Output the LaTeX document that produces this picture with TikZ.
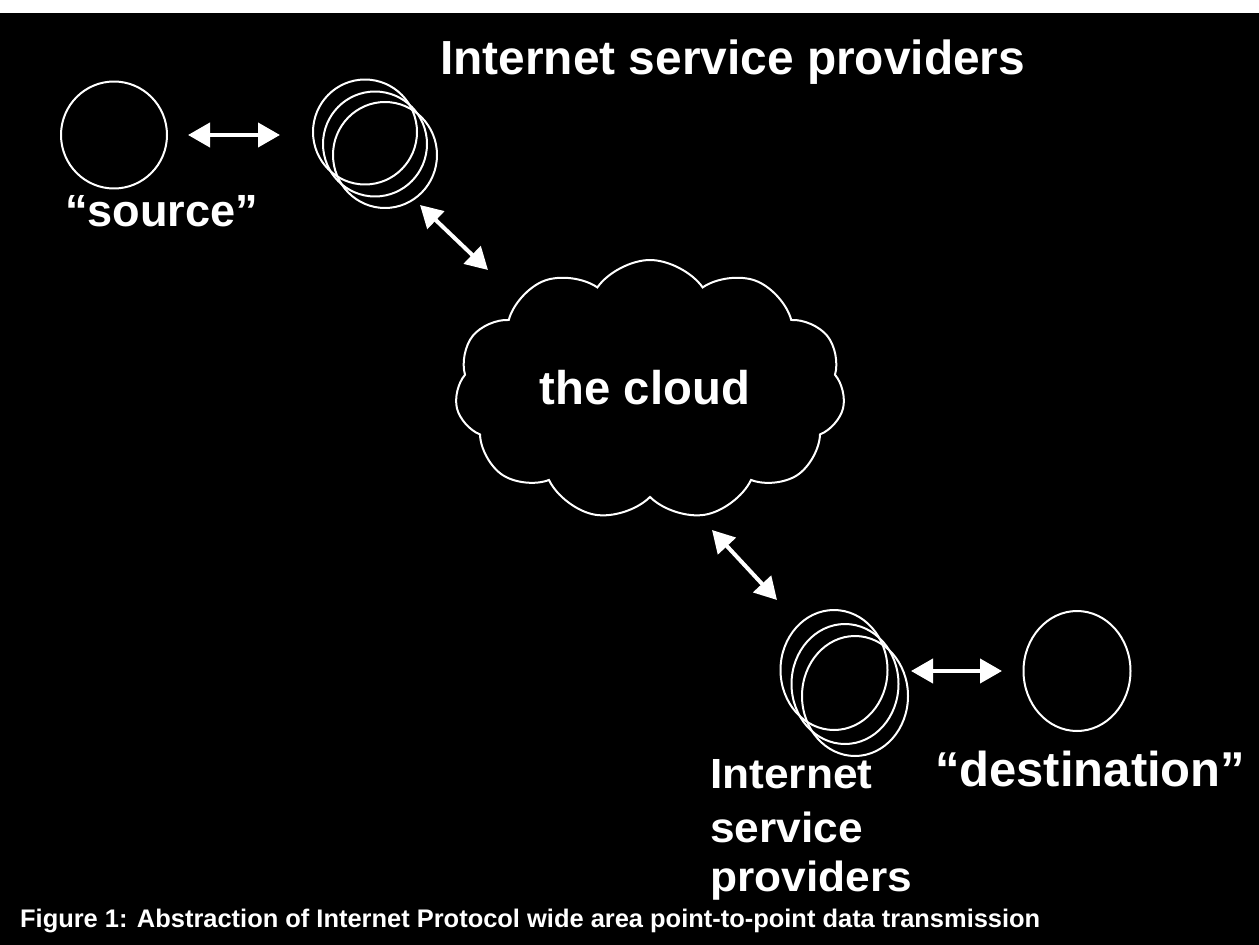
\documentclass[tikz,border=0pt]{standalone}
\usepackage{fontspec}
\setmainfont{Liberation Sans}
\usetikzlibrary{arrows.meta,shapes.symbols,shapes.geometric}
\newcommand{\fitw}[2]{\resizebox{#1}{!}{\bfseries #2}}
\newcommand{\widebig}[1]{\scalebox{1.05}[1]{\fontsize{60}{60}\selectfont\bfseries #1}}
\begin{document}
\begin{tikzpicture}[x=0.05cm,y=-0.05cm,
  ring/.style={draw=white,line width=1mm,ellipse,inner sep=0pt},
  dbl/.style={white,line width=2mm,{Triangle[length=11mm,width=12mm]}-{Triangle[length=11mm,width=12mm]}},
  lbl/.style={text=white,inner sep=0pt}]
\fill[white] (0,0) rectangle (1259,945);
\fill[black] (0,13) rectangle (1259,945);
\useasboundingbox (0,0) rectangle (1259,945);
% source
\node[ring,minimum width=5.3cm,minimum height=5.35cm] (src) at (114,135) {};
% ISP top
\node[ring,minimum width=5.2cm,minimum height=5.25cm] (ia) at (365,132) {};
\node[ring,minimum width=5.2cm,minimum height=5.25cm] (ib) at (375,144) {};
\node[ring,minimum width=5.2cm,minimum height=5.3cm] (ic) at (385,155) {};
% cloud
\node[cloud,draw=white,line width=1mm,cloud puffs=11,cloud puff arc=110,aspect=1.5,minimum width=19.5cm,minimum height=13cm,inner sep=0pt] (cl) at (650,390) {};
\node[lbl] (clt) at (645,388) {\fitw{10.5cm}{the cloud}};
% ISP bottom
\node[ring,minimum width=5.35cm,minimum height=6cm] (ja) at (834,670) {};
\node[ring,minimum width=5.35cm,minimum height=6cm] (jb) at (845,684) {};
\node[ring,minimum width=5.3cm,minimum height=6cm] (jc) at (855,696) {};
% destination
\node[ring,minimum width=5.35cm,minimum height=6cm] (dst) at (1077,671) {};
% arrow endpoints
\coordinate (a1) at (188,135); \coordinate (a2) at (280,135);
\coordinate (b1) at (420,205); \coordinate (b2) at (488,270);
\coordinate (c1) at (712,530); \coordinate (c2) at (777,600);
\coordinate (d1) at (911,671); \coordinate (d2) at (1002,671);
\draw[dbl] (a1) -- (a2);
\draw[dbl] (b1) -- (b2);
\draw[dbl] (c1) -- (c2);
\draw[dbl] (d1) -- (d2);
% labels
\node[lbl,anchor=west] (t1) at (440,62) {\fitw{29.25cm}{Internet service providers}};
\node[lbl,anchor=west] (t2) at (65,211) {\fitw{9.65cm}{“source”}};
\node[lbl,anchor=base west] (t3) at (710,788) {\widebig{Internet}};
\node[lbl,anchor=base west] (t4) at (710,842) {\widebig{service}};
\node[lbl,anchor=base west] (t5) at (710,891) {\widebig{providers}};
\node[lbl,anchor=base west] (t6) at (935,786) {\fitw{15.5cm}{“destination”}};
\node[lbl,anchor=west] (cap) at (20,921) {\fitw{51cm}{Figure 1: Abstraction of Internet Protocol wide area point-to-point data transmission}};
\end{tikzpicture}
\end{document}
